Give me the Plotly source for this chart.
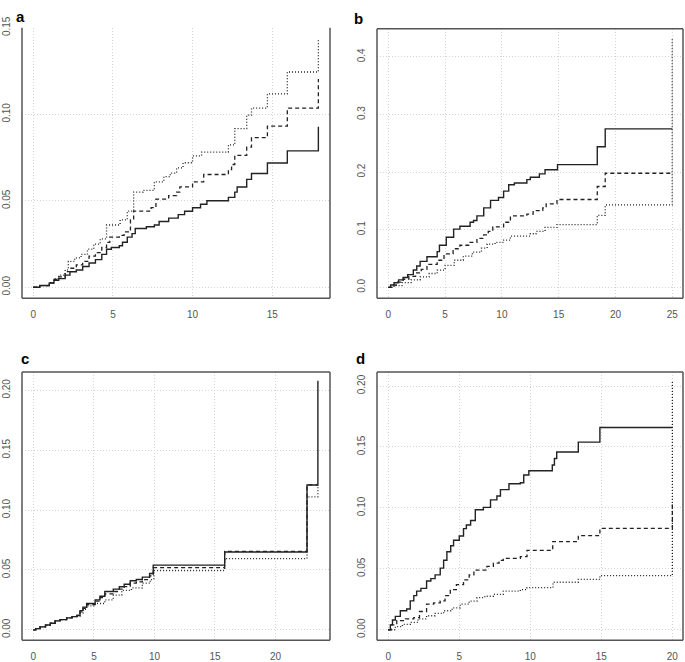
import plotly.graph_objects as go

# ---- panel a ----
a_solid_t = [0, 0.4, 1.0, 1.3, 1.6, 2.0, 2.3, 2.7, 3.1, 3.5, 3.9, 4.3, 4.6, 4.9, 5.4, 5.6, 5.9, 6.2, 6.4,
             7.1, 7.6, 7.9, 8.5, 9.1, 9.5, 10.0, 10.5, 10.9, 12.25, 12.65, 12.8, 13.4, 13.7, 14.7, 15.95, 17.9]
a_solid_v = [0, 0.001, 0.0025, 0.004, 0.005, 0.007, 0.009, 0.010, 0.012, 0.014, 0.016, 0.019, 0.022, 0.023,
             0.024, 0.026, 0.029, 0.031, 0.034, 0.035, 0.036, 0.038, 0.040, 0.042, 0.044, 0.046, 0.048, 0.050,
             0.052, 0.055, 0.058, 0.0624, 0.0658, 0.0719, 0.0789, 0.0928]
a_dash_t = [0, 0.4, 1.0, 1.3, 1.6, 2.0, 2.3, 2.7, 3.1, 3.5, 3.9, 4.3, 4.6, 4.8, 5.4, 5.7, 6.1, 6.3, 7.4, 7.7,
            8.5, 9.0, 9.2, 10.0, 10.7, 12.25, 12.45, 12.65, 13.4, 13.7, 14.7, 15.95, 17.9]
a_dash_v = [0, 0.001, 0.0025, 0.0045, 0.006, 0.009, 0.011, 0.013, 0.015, 0.018, 0.020, 0.023, 0.026, 0.029,
            0.030, 0.032, 0.039, 0.044, 0.046, 0.051, 0.053, 0.055, 0.058, 0.061, 0.0652, 0.068, 0.071,
            0.0763, 0.081, 0.0865, 0.0932, 0.1036, 0.1204]
a_dot_t = [0, 0.4, 1.0, 1.3, 1.6, 2.0, 2.2, 2.6, 3.0, 3.4, 3.8, 4.2, 4.6, 5.45, 5.9, 6.3, 6.9, 7.6, 8.2, 8.6,
           9.0, 9.4, 10.0, 10.57, 12.25, 12.65, 13.4, 13.7, 14.7, 15.95, 17.9]
a_dot_v = [0, 0.001, 0.0025, 0.005, 0.007, 0.010, 0.015, 0.017, 0.019, 0.022, 0.025, 0.028, 0.036, 0.039,
           0.044, 0.055, 0.056, 0.061, 0.064, 0.066, 0.069, 0.072, 0.076, 0.0781, 0.0823, 0.0918, 0.0995,
           0.1036, 0.1118, 0.1245, 0.1436]

# ---- panel b ----
b_solid_t = [0, 0.2, 0.5, 0.9, 1.3, 1.7, 2.2, 2.5, 2.8, 3.4, 4.3, 4.5, 5.1, 5.75, 6.3, 7.2, 7.5, 7.8, 8.4,
             9.0, 9.7, 10.15, 10.6, 11.1, 12.2, 12.5, 13.3, 13.8, 14.9, 18.4, 19.1, 25.0]
b_solid_v = [0, 0.004, 0.008, 0.013, 0.017, 0.022, 0.030, 0.037, 0.045, 0.053, 0.062, 0.073, 0.087, 0.101,
             0.106, 0.113, 0.116, 0.124, 0.138, 0.151, 0.156, 0.167, 0.178, 0.181, 0.187, 0.191, 0.197,
             0.204, 0.213, 0.244, 0.275, 0.275]
b_dash_t = [0, 0.3, 0.8, 1.3, 1.8, 2.4, 2.9, 3.4, 4.3, 4.9, 5.7, 6.3, 7.2, 7.8, 8.4, 8.8, 9.2, 10.15, 10.75,
            12.2, 12.75, 13.6, 13.9, 14.85, 18.4, 19.1, 25.0]
b_dash_v = [0, 0.004, 0.009, 0.014, 0.019, 0.025, 0.031, 0.040, 0.047, 0.058, 0.067, 0.073, 0.078, 0.085,
            0.091, 0.097, 0.105, 0.113, 0.124, 0.127, 0.133, 0.138, 0.145, 0.1525, 0.175, 0.198, 0.198]
b_dot_t = [0, 0.5, 1.2, 2.0, 2.8, 3.6, 4.3, 5.0, 5.8, 6.6, 7.4, 8.2, 8.7, 9.4, 10.15, 10.75, 12.5, 13.0,
           13.8, 14.85, 18.4, 19.1, 25.0]
b_dot_v = [0, 0.003, 0.008, 0.013, 0.018, 0.024, 0.030, 0.038, 0.047, 0.054, 0.061, 0.068, 0.075, 0.078,
           0.082, 0.089, 0.093, 0.097, 0.104, 0.109, 0.125, 0.143, 0.434]

# ---- panel c ----
c_solid_t = [0, 0.2, 0.55, 1.0, 1.4, 1.8, 2.2, 2.75, 3.2, 3.6, 3.85, 4.1, 4.4, 5.1, 5.5, 5.9, 6.6, 7.1, 7.5,
             8.0, 8.5, 9.0, 9.6, 9.9, 15.8, 22.6, 23.5]
c_solid_v = [0, 0.001, 0.0025, 0.004, 0.0055, 0.0075, 0.0085, 0.010, 0.011, 0.012, 0.016, 0.019, 0.022,
             0.025, 0.028, 0.032, 0.034, 0.036, 0.038, 0.041, 0.042, 0.044, 0.047, 0.054, 0.065, 0.121, 0.208]
c_dash_t = [0, 0.2, 0.55, 1.0, 1.4, 1.8, 2.2, 2.75, 3.2, 3.6, 3.85, 4.1, 4.4, 5.1, 5.5, 5.9, 6.6, 7.1, 7.5,
            8.0, 8.5, 9.0, 9.6, 9.9, 15.8, 22.6, 23.5]
c_dash_v = [0, 0.001, 0.0025, 0.004, 0.0055, 0.0075, 0.0085, 0.010, 0.011, 0.012, 0.015, 0.018, 0.021,
            0.024, 0.027, 0.030, 0.032, 0.034, 0.036, 0.039, 0.040, 0.042, 0.045, 0.052, 0.0655, 0.121, 0.121]
c_dot_t = [0, 0.2, 0.55, 1.0, 1.4, 1.8, 2.2, 2.75, 3.2, 3.6, 3.85, 4.1, 4.4, 5.1, 5.9, 6.6, 7.3, 8.1, 9.0,
           9.65, 9.95, 15.8, 22.6, 23.5]
c_dot_v = [0, 0.001, 0.0025, 0.004, 0.0055, 0.0075, 0.0085, 0.010, 0.011, 0.0115, 0.014, 0.017, 0.020,
           0.022, 0.025, 0.029, 0.033, 0.035, 0.039, 0.042, 0.0495, 0.0595, 0.111, 0.121]

# ---- panel d ----
d_solid_t = [0, 0.15, 0.3, 0.5, 0.85, 1.3, 1.55, 1.8, 2.0, 2.3, 2.7, 3.0, 3.3, 3.66, 3.9, 4.13, 4.4, 4.6,
             5.0, 5.3, 5.5, 5.8, 6.13, 6.7, 7.2, 7.65, 7.9, 8.5, 9.3, 9.54, 9.9, 11.55, 11.7, 11.86, 13.38,
             14.9, 20.0]
d_solid_v = [0, 0.004, 0.008, 0.011, 0.0156, 0.017, 0.0237, 0.028, 0.0317, 0.034, 0.040, 0.042, 0.045,
             0.0506, 0.057, 0.064, 0.069, 0.0735, 0.077, 0.083, 0.086, 0.0897, 0.0985, 0.1004, 0.1066,
             0.1098, 0.115, 0.1198, 0.1206, 0.127, 0.1305, 0.1352, 0.1405, 0.1459, 0.154, 0.166, 0.166]
d_dash_t = [0, 0.2, 0.6, 1.2, 1.8, 2.2, 2.7, 3.2, 3.66, 4.0, 4.37, 4.8, 5.3, 5.7, 6.03, 6.95, 7.4, 7.8, 8.1,
            9.3, 9.77, 11.58, 13.38, 14.9, 20.0]
d_dash_v = [0, 0.004, 0.0075, 0.009, 0.010, 0.015, 0.021, 0.022, 0.0237, 0.028, 0.033, 0.037, 0.041, 0.045,
            0.049, 0.052, 0.0546, 0.057, 0.0586, 0.060, 0.0652, 0.0724, 0.0772, 0.0832, 0.1028]
d_dot_t = [0, 0.5, 1.0, 1.55, 2.1, 2.7, 3.3, 3.9, 4.5, 5.07, 5.7, 6.25, 6.8, 7.4, 8.1, 9.3, 9.77, 11.6,
           13.38, 14.9, 20.0]
d_dot_v = [0, 0.0025, 0.0045, 0.0061, 0.009, 0.0115, 0.0135, 0.0156, 0.018, 0.021, 0.0235, 0.0263, 0.0275,
           0.029, 0.0317, 0.033, 0.0345, 0.039, 0.0414, 0.0444, 0.2045]

panel_labels = ["a", "b", "c", "d"]

W, H = 685, 662
LINE = "#222222"
FRAME = "#555555"
GRID = "#d4d4d4"
FONT = "Liberation Sans, Arial, sans-serif"

# box positions are in pixels of the 685x662 page
panels = [
    dict(curves=[(a_solid_t, a_solid_v), (a_dash_t, a_dash_v), (a_dot_t, a_dot_v)],
         xb=(22, 330), yb=(17, 292), xr=[-0.71, 18.63], yr=[-0.0063, 0.1501],
         xt=[0, 5, 10, 15], yt=[0, 0.05, 0.10, 0.15], ytxt=["0.00", "0.05", "0.10", "0.15"],
         lab=(14, 5.5), top=False),
    dict(curves=[(b_solid_t, b_solid_v), (b_dash_t, b_dash_v), (b_dot_t, b_dot_v)],
         xb=(377, 683), yb=(18, 292), xr=[-1.0, 25.95], yr=[-0.0188, 0.449],
         xt=[0, 5, 10, 15, 20, 25], yt=[0, 0.1, 0.2, 0.3, 0.4], ytxt=["0.0", "0.1", "0.2", "0.3", "0.4"],
         lab=(352, 7.5), top=True),
    dict(curves=[(c_solid_t, c_solid_v), (c_dash_t, c_dash_v), (c_dot_t, c_dot_v)],
         xb=(22, 330), yb=(367, 640), xr=[-0.94, 24.5], yr=[-0.0088, 0.2154],
         xt=[0, 5, 10, 15, 20], yt=[0, 0.05, 0.10, 0.15, 0.20],
         ytxt=["0.00", "0.05", "0.10", "0.15", "0.20"], lab=(19, 353.5), top=True),
    dict(curves=[(d_solid_t, d_solid_v), (d_dash_t, d_dash_v), (d_dot_t, d_dot_v)],
         xb=(377, 683), yb=(367, 640), xr=[-0.79, 20.75], yr=[-0.0087, 0.2116],
         xt=[0, 5, 10, 15, 20], yt=[0, 0.05, 0.10, 0.15, 0.20],
         ytxt=["0.00", "0.05", "0.10", "0.15", "0.20"], lab=(354, 353.5), top=True),
]

dashes = ["solid", "4px,3px", "1px,2px"]
widths = [1.4, 1.3, 1.3]

fig = go.Figure()
shapes = []
annotations = []
layout = {}

for i, p in enumerate(panels, start=1):
    sfx = "" if i == 1 else str(i)
    for (t, v), dsh, w in zip(p["curves"], dashes, widths):
        fig.add_trace(go.Scatter(x=t, y=v, mode="lines", line_shape="hv",
                                 line=dict(color=LINE, width=w, dash=dsh),
                                 xaxis="x" + sfx, yaxis="y" + sfx, showlegend=False,
                                 hoverinfo="skip"))
    x0, x1 = p["xb"]
    y0, y1 = p["yb"]
    layout["xaxis" + sfx] = dict(
        domain=[x0 / W, x1 / W], range=p["xr"], anchor="y" + sfx,
        tickvals=p["xt"], ticks="outside", ticklen=7, tickcolor="rgba(0,0,0,0)",
        showgrid=True, gridcolor=GRID, griddash="1px,2px", gridwidth=1, zeroline=False,
        showline=False, tickfont=dict(family=FONT, size=10, color="#555555"))
    layout["yaxis" + sfx] = dict(
        domain=[1 - y1 / H, 1 - y0 / H], range=p["yr"], anchor="x" + sfx,
        tickvals=p["yt"], ticktext=p["ytxt"], tickangle=-90,
        ticks="outside", ticklen=7, tickcolor="rgba(0,0,0,0)",
        showgrid=True, gridcolor=GRID, griddash="1px,2px", gridwidth=1, zeroline=False,
        showline=False, tickfont=dict(family=FONT, size=10, color="#555555"))

    # R-style box round each panel (panel a has its top cut at the 0.15 grid line)
    xref = "x" + sfx + " domain"
    yref = "y" + sfx + " domain"
    sides = [(0, 0, 0, 1), (1, 0, 1, 1), (0, 0, 1, 0)]
    if p["top"]:
        sides.append((0, 1, 1, 1))
    for sx0, sy0, sx1, sy1 in sides:
        shapes.append(dict(type="line", xref=xref, yref=yref, x0=sx0, y0=sy0, x1=sx1, y1=sy1,
                           line=dict(color=FRAME, width=1.5)))

    lx, ly = p["lab"]
    annotations.append(dict(text="<b>" + panel_labels[i - 1] + "</b>", xref="paper", yref="paper",
                            x=lx / W, y=1 - ly / H, xanchor="left", yanchor="middle",
                            showarrow=False, font=dict(family=FONT, size=15, color="#000000")))

fig.update_layout(**layout)
fig.update_layout(width=W, height=H, margin=dict(l=0, r=0, t=0, b=0),
                  paper_bgcolor="white", plot_bgcolor="white",
                  shapes=shapes, annotations=annotations, showlegend=False)

# drop the browser's default body margin so the figure sits at the page corner
fig.write_html("out.html", config={"displayModeBar": False},
               post_script="document.body.style.margin='0';document.body.style.overflow='hidden';")
